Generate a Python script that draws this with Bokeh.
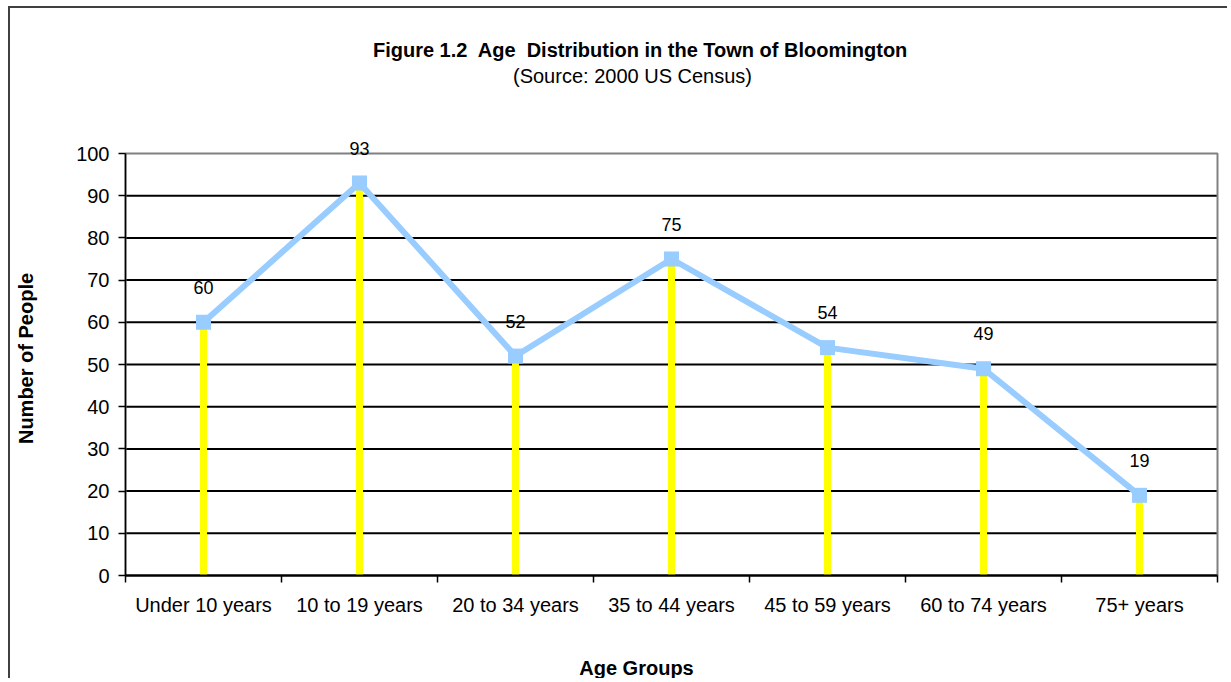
import math
import numpy as np
from bokeh.plotting import figure
from bokeh.models import (FixedTicker, Label, LabelSet, ColumnDataSource,
                          LinearAxis, Range1d)
from bokeh.core.properties import value
from bokeh.embed import file_html
from bokeh.resources import INLINE

# ---- data ----
categories = ["Under 10 years", "10 to 19 years", "20 to 34 years", "35 to 44 years",
              "45 to 59 years", "60 to 74 years", "75+ years"]
people = [60, 93, 52, 75, 54, 49, 19]
y_ticks = [0, 10, 20, 30, 40, 50, 60, 70, 80, 90, 100]

title_text = "Figure 1.2\u00a0 Age\u00a0 Distribution in the Town of Bloomington"
subtitle_text = "(Source: 2000 US Census)"
x_title = "Age Groups"
y_title = "Number of People"

FONT = "Liberation Sans"

# ---- layout geometry (page pixels) ----
MX, MY = 8, 6             # outer chart border position on the page
OX, OY = MX + 2, MY + 2   # canvas offset on the page (css margin + border)
W, H = 1219, 672          # canvas size
PA_L, PA_R = 125, 1217    # plot area left/right
PA_T, PA_B = 153, 575     # plot area top/bottom

n = len(categories)
ymax = y_ticks[-1]
kx = (PA_R - PA_L) / n
ky = (PA_B - PA_T) / ymax


def dx(px):
    return (px - PA_L) / kx


def dy(py):
    return (PA_B - py) / ky


xpos = np.arange(n) + 0.5
src = ColumnDataSource(dict(x=xpos, y=people, zero=[0] * n,
                            lab=[str(v) for v in people]))

p = figure(width=W, height=H, output_backend="svg", toolbar_location=None,
           x_range=Range1d(dx(OX), dx(OX + W)), y_range=Range1d(dy(OY + H), dy(OY)),
           x_axis_location=None, y_axis_location=None,
           min_border=0, min_border_left=0, min_border_right=0,
           min_border_top=0, min_border_bottom=0)
p.styles = {"margin-left": f"{MX}px", "margin-top": f"{MY}px",
            "border-top": "2px solid #404040", "border-left": "2px solid #404040"}
p.background_fill_color = "white"
p.border_fill_color = "white"
p.outline_line_color = None
p.grid.visible = False

# horizontal gridlines inside plot area
grid_y = y_ticks[:-1]
p.segment(x0=[0] * len(grid_y), x1=[n] * len(grid_y), y0=grid_y, y1=grid_y,
          line_color="black", line_width=2)

# plot area border
p.quad(left=[0], right=[n], bottom=[0], top=[ymax], fill_color=None,
       line_color="#808080", line_width=2)

# y axis
ya = LinearAxis(fixed_location=0, bounds=(0, ymax), ticker=FixedTicker(ticks=y_ticks))
ya.axis_line_color = "black"
ya.axis_line_width = 1.5
ya.major_tick_in = 0
ya.major_tick_out = 7
ya.major_tick_line_color = "black"
ya.major_tick_line_width = 1.5
ya.minor_tick_line_color = None
ya.major_label_standoff = 9
ya.major_label_text_font = FONT
ya.major_label_text_font_size = "20px"
ya.major_label_text_color = "black"
p.add_layout(ya, "left")

# x axis
xa = LinearAxis(fixed_location=0, bounds=(0, n),
                ticker=FixedTicker(ticks=list(xpos), minor_ticks=list(range(n + 1))))
xa.major_label_overrides = {float(x): c for x, c in zip(xpos, categories)}
xa.axis_line_color = "black"
xa.axis_line_width = 2
xa.major_tick_line_color = None
xa.major_tick_in = 0
xa.major_tick_out = 0
xa.minor_tick_line_color = "black"
xa.minor_tick_line_width = 1.5
xa.minor_tick_in = 0
xa.minor_tick_out = 7
xa.major_label_standoff = 11
xa.major_label_text_font = FONT
xa.major_label_text_font_size = "20px"
xa.major_label_text_color = "black"
p.add_layout(xa, "below")

# drop lines
p.segment(x0="x", y0="zero", x1="x", y1="y", source=src,
          line_color="#FFFF00", line_width=7)
# line and markers
p.line(x="x", y="y", source=src, line_color="#99CCFF", line_width=6)
p.scatter(x="x", y="y", source=src, marker="square", size=15,
          fill_color="#99CCFF", line_color=None)
# data labels
p.add_layout(LabelSet(x="x", y="y", text="lab", source=src, y_offset=35,
                      text_font=value(FONT), text_font_size="18px", text_color="black",
                      text_align="center", text_baseline="middle"))

# titles
p.add_layout(Label(x=dx(640), y=dy(49), text=title_text, text_font=FONT,
                   text_font_style="bold", text_font_size="20px",
                   text_align="center", text_baseline="middle", text_color="black"))
p.add_layout(Label(x=dx(632), y=dy(75), text=subtitle_text, text_font=FONT,
                   text_font_size="20px",
                   text_align="center", text_baseline="middle", text_color="black"))
p.add_layout(Label(x=dx(636), y=dy(667), text=x_title, text_font=FONT,
                   text_font_style="bold", text_font_size="20px",
                   text_align="center", text_baseline="middle", text_color="black"))
p.add_layout(Label(x=dx(25), y=dy(358), text=y_title, text_font=FONT, angle=math.pi / 2,
                   text_font_style="bold", text_font_size="20px",
                   text_align="center", text_baseline="middle", text_color="black"))

open("out.html", "w").write(file_html(p, INLINE))
